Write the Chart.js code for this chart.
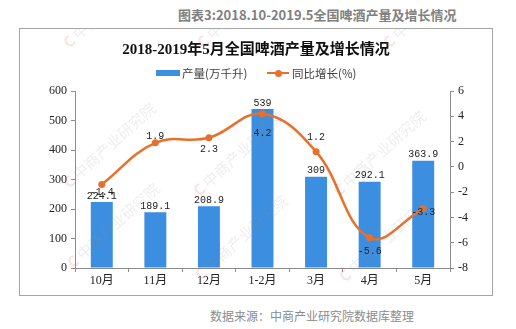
<!DOCTYPE html>
<html>
<head>
<meta charset="utf-8">
<script src="https://cdn.jsdelivr.net/npm/chart.js@4/dist/chart.umd.min.js"></script>
<style>
  body { margin: 0; background: #fff; width: 516px; height: 329px; position: relative; overflow: hidden;
         font-family: "Noto Sans CJK SC", sans-serif; }
  #head { position: absolute; left: 178px; top: 5px; white-space: nowrap; font-size: 13px; font-weight: bold; color: #808080; }
  #box { position: absolute; left: 19px; top: 28px; width: 474px; height: 268px; border: 1px solid #a6a6a6; box-sizing: border-box; }
  #src { position: absolute; left: 210px; top: 307px; white-space: nowrap; font-size: 12px; color: #8c8c8c; }
  #legend .item { position: absolute; top: 35px; height: 18px; display: flex; align-items: center;
                  font-size: 11.5px; color: #404040; white-space: nowrap; }
  #legend .bar { width: 24px; height: 6px; background: #3b8ee0; margin-right: 2px; }
  #legend .line { position: relative; width: 22px; height: 2px; background: #e8702a; margin-right: 3px; }
  #legend .line::after { content: ""; position: absolute; left: 8px; top: -2.5px; width: 7px; height: 7px;
                         border-radius: 50%; background: #e8702a; }
  #wm { position: absolute; left: 0; top: 0; width: 472px; height: 266px; overflow: hidden; pointer-events: none; }
  #wm span { position: absolute; white-space: nowrap; font-size: 15px; color: rgba(150,150,150,0.16);
             transform-origin: 0 100%; transform: rotate(-42deg); }
  #wm span::before { content: "C"; font-weight: bold; color: rgba(220,90,80,0.16); margin-right: 3px; }
</style>
</head>
<body>
<div id="head">图表3:2018.10-2019.5全国啤酒产量及增长情况</div>
<div id="box">
  <canvas id="chart" width="472" height="266"></canvas>
  <div id="legend">
    <div class="item" style="left:136px"><span class="bar"></span><span id="lg0"></span></div>
    <div class="item" style="left:247px"><span class="line"></span><span id="lg1"></span></div>
  </div>
  <div id="wm">
    <span style="left:52px;top:2px">中商产业研究院</span>
    <span style="left:186px;top:2px">中商产业研究院</span>
    <span style="left:372px;top:2px">中商产业研究院</span>
    <span style="left:52px;top:142px">中商产业研究院</span>
    <span style="left:182px;top:150px">中商产业研究院</span>
    <span style="left:322px;top:150px">中商产业研究院</span>
    <span style="left:56px;top:222px">中商产业研究院</span>
    <span style="left:184px;top:234px">中商产业研究院</span>
    <span style="left:328px;top:236px">中商产业研究院</span>
  </div>
</div>
<div id="src">数据来源：中商产业研究院数据库整理</div>
<script>
// months, beer output (10k kilolitres) and y/y growth (%)
const months = ['10月', '11月', '12月', '1-2月', '3月', '4月', '5月'];
const output = [224.1, 189.1, 208.9, 539, 309, 292.1, 363.9];
const growth = [-1.4, 1.9, 2.3, 4.2, 1.2, -5.6, -3.3];
const seriesNames = ['产量(万千升)', '同比增长(%)'];

const BLUE = '#3b8ee0';
const ORANGE = '#e8702a';
const AXIS = '#8c8c8c';

// vertical nudge of each growth label relative to its point
const growthLabelDy = [8, -6, 12, 20, -14, 14, 4];

const valueLabels = {
  id: 'valueLabels',
  afterDatasetsDraw(chart) {
    const ctx = chart.ctx;
    ctx.save();
    ctx.font = '10px "Liberation Mono", monospace';
    ctx.fillStyle = '#222';
    ctx.textAlign = 'center';
    ctx.textBaseline = 'middle';
    chart.getDatasetMeta(0).data.forEach((el, i) => {
      ctx.fillText(String(output[i]), el.x, el.y - 6);
    });
    chart.getDatasetMeta(1).data.forEach((el, i) => {
      ctx.fillText(growth[i].toFixed(1), el.x, el.y + growthLabelDy[i]);
    });
    ctx.restore();
  }
};

const tickFont = { family: '"Liberation Serif", "Noto Sans CJK SC", serif', size: 12 };

const chart = new Chart(document.getElementById('chart'), {
  data: {
    labels: months,
    datasets: [
      {
        type: 'bar',
        label: seriesNames[0],
        data: output,
        backgroundColor: BLUE,
        categoryPercentage: 1,
        barPercentage: 0.41,
        yAxisID: 'y',
        order: 1
      },
      {
        type: 'line',
        label: seriesNames[1],
        data: growth,
        borderColor: ORANGE,
        backgroundColor: ORANGE,
        borderWidth: 2.5,
        pointRadius: 3.5,
        pointBackgroundColor: ORANGE,
        pointBorderWidth: 0,
        tension: 0.4,
        yAxisID: 'y1',
        order: 0
      }
    ]
  },
  options: {
    responsive: false,
    animation: false,
    layout: { padding: 0 },
    plugins: {
      title: {
        display: true,
        text: '2018-2019年5月全国啤酒产量及增长情况',
        color: '#111',
        font: { family: '"Liberation Serif", "Noto Sans CJK SC", serif', size: 15, weight: 'bold', lineHeight: 1 },
        padding: { top: 14, bottom: 33 }
      },
      // legend is html, see #legend
      legend: { display: false },
      tooltip: { enabled: false }
    },
    scales: {
      x: {
        grid: { display: true, drawOnChartArea: false, color: AXIS, tickLength: 4 },
        border: { color: AXIS },
        ticks: { color: '#222', font: tickFont, padding: 2 },
        afterFit: s => { s.height = 27; }
      },
      y: {
        position: 'left',
        min: 0, max: 600,
        ticks: { stepSize: 100, color: '#222', font: tickFont, padding: 4 },
        grid: { display: true, drawOnChartArea: false, color: AXIS, tickLength: 4 },
        border: { color: AXIS },
        afterFit: s => { s.width = 55; }
      },
      y1: {
        position: 'right',
        min: -8, max: 6,
        ticks: { stepSize: 2, color: '#222', font: tickFont, padding: 4 },
        grid: { display: true, drawOnChartArea: false, color: AXIS, tickLength: 4 },
        border: { color: AXIS },
        afterFit: s => { s.width = 42; }
      }
    }
  },
  plugins: [valueLabels]
});

chart.data.datasets.forEach((ds, i) => {
  document.getElementById('lg' + i).textContent = ds.label;
});
</script>
</body>
</html>
